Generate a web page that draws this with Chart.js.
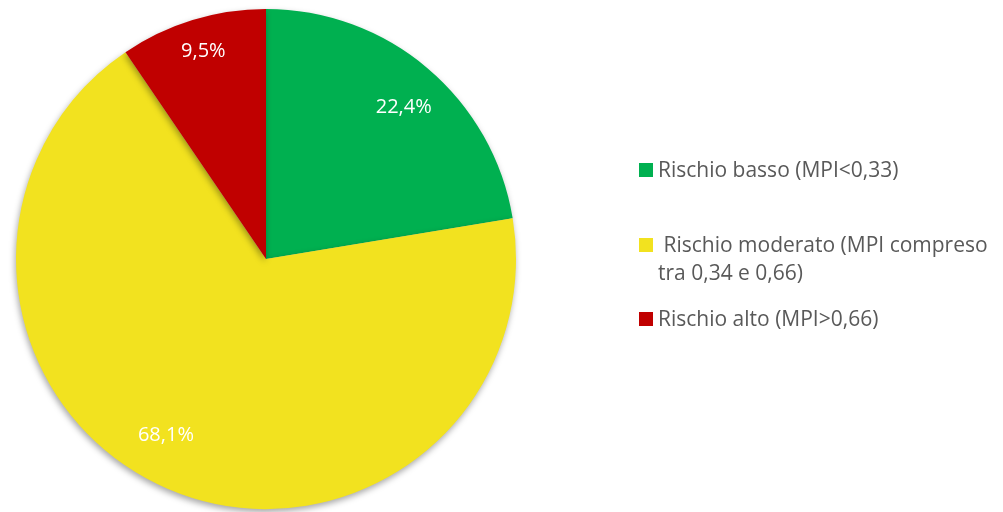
<!DOCTYPE html>
<html>
<head>
<meta charset="utf-8">
<script src="https://cdn.jsdelivr.net/npm/chart.js@4.4.0/dist/chart.umd.min.js"></script>
<style>
  html, body { margin: 0; padding: 0; background: #fff; }
  #wrap { position: relative; width: 1003px; height: 512px; }
</style>
</head>
<body>
<div id="wrap"><canvas id="pieChart" width="1003" height="512"></canvas></div>
<script>
// Categorie e valori (percentuali)
const categorie = [
    ['Rischio basso (MPI<0,33)'],
    [' Rischio moderato (MPI compreso', 'tra 0,34 e 0,66)'],
    ['Rischio alto (MPI>0,66)']
];
const valori = [22.4, 68.1, 9.5];
const colori = ['#00B050', '#F2E21F', '#C00000'];

const FONT = '"Open Sans", Lato, sans-serif';

// Posizione delle etichette: scarto d'angolo (gradi) e frazione del raggio
const scartoAngolo = [1.9, 6.4, 0.3];
const frazioneRaggio = [0.82, 0.81, 0.867];

// Etichette percentuali sulle fette
const etichettePlugin = {
    id: 'etichette',
    afterDatasetsDraw(chart) {
        const ctx = chart.ctx;
        const meta = chart.getDatasetMeta(0);
        ctx.save();
        ctx.fillStyle = '#ffffff';
        ctx.font = '20px ' + FONT;
        ctx.textAlign = 'center';
        ctx.textBaseline = 'middle';
        meta.data.forEach((arc, i) => {
            const mid = (arc.startAngle + arc.endAngle) / 2 + scartoAngolo[i] * Math.PI / 180;
            const r = arc.outerRadius * frazioneRaggio[i];
            const x = arc.x + Math.cos(mid) * r;
            const y = arc.y + Math.sin(mid) * r;
            ctx.fillText(valori[i].toFixed(1).replace('.', ',') + '%', x, y);
        });
        ctx.restore();
    }
};

// Ombra leggera sotto la torta
const ombraPlugin = {
    id: 'ombra',
    beforeDatasetsDraw(chart) {
        const ctx = chart.ctx;
        ctx.save();
        ctx.shadowColor = 'rgba(0,0,0,0.35)';
        ctx.shadowBlur = 6;
        ctx.shadowOffsetX = -1;
        ctx.shadowOffsetY = 3;
    },
    afterDatasetsDraw(chart) {
        chart.ctx.restore();
    }
};

// Legenda a destra, con testo su più righe
const legendaPlugin = {
    id: 'legenda',
    afterDraw(chart) {
        const ctx = chart.ctx;
        const baseY = [177, 252, 326];
        ctx.save();
        ctx.font = '21px ' + FONT;
        ctx.textBaseline = 'alphabetic';
        ctx.textAlign = 'left';
        categorie.forEach((righe, i) => {
            ctx.fillStyle = colori[i];
            ctx.fillRect(639, baseY[i] - 14, 14, 14);
            ctx.fillStyle = '#595959';
            righe.forEach((t, j) => {
                ctx.fillText(t, 658, baseY[i] + j * 28);
            });
        });
        ctx.restore();
    }
};

const ctx = document.getElementById('pieChart').getContext('2d');
const pieChart = new Chart(ctx, {
    type: 'pie',
    data: {
        labels: categorie.map(r => r.join(' ')),
        datasets: [{
            data: valori,
            backgroundColor: colori,
            borderWidth: 0
        }]
    },
    options: {
        responsive: false,
        animation: false,
        layout: { padding: { left: 16, right: 487, top: 9, bottom: 3 } },
        plugins: {
            legend: { display: false },
            tooltip: { enabled: false }
        }
    },
    plugins: [ombraPlugin, etichettePlugin, legendaPlugin]
});
</script>
</body>
</html>
